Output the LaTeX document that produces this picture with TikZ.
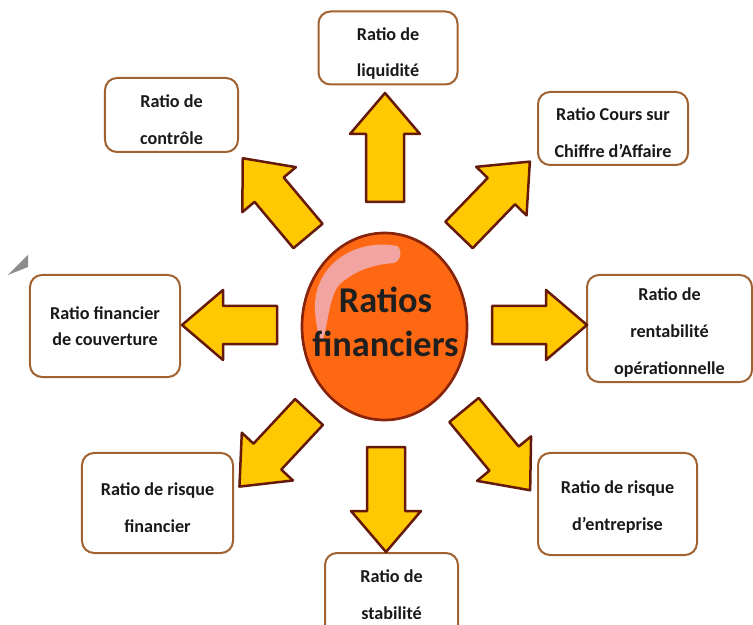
\documentclass[tikz,border=0pt]{standalone}
\usepackage{fontspec}
\setmainfont{Carlito}
\usetikzlibrary{shapes.geometric}

\definecolor{boxbrown}{RGB}{160,98,48}
\definecolor{arrowfill}{RGB}{255,200,0}
\definecolor{arrowline}{RGB}{100,25,10}
\definecolor{hubfill}{RGB}{255,104,18}
\definecolor{hubline}{RGB}{135,35,10}
\definecolor{shine}{RGB}{242,165,160}

\begin{document}
\begin{tikzpicture}[x=0.03cm,y=-0.03cm,
    ratiobox/.style={draw=boxbrown,line width=0.06cm,rounded corners=0.36cm,fill=white},
    ratiotext/.style={font=\bfseries\fontsize{15.5}{31.5}\selectfont,align=center,text=black!90},
    fatarrow/.pic={\draw[arrowline,fill=arrowfill,line width=0.075cm,line join=round]
      (0,-19) -- (#1-41,-19) -- (#1-41,-35) -- (#1,0) -- (#1-41,35) -- (#1-41,19) -- (0,19) -- cycle;},
    hub/.style={ellipse,draw=hubline,line width=0.08cm,fill=hubfill,
      minimum width=4.95cm,minimum height=5.61cm,inner sep=0pt}]
      \useasboundingbox (0,0) rectangle (753,625);
      \fill[black!45] (8,275) -- (28,255) -- (28,267) -- cycle;

      % boxes
      \node[ratiobox,minimum width=4.17cm,minimum height=2.19cm,
        label={[ratiotext,yshift=-0.165cm]center:{Ratio de\\liquidité}}] (liq) at (388,48) {};
      \node[ratiobox,minimum width=3.99cm,minimum height=2.22cm,
        label={[ratiotext,yshift=-0.15cm]center:{Ratio de\\contrôle}}] (ctrl) at (171.5,115) {};
      \node[ratiobox,minimum width=4.5cm,minimum height=2.19cm,
        label={[ratiotext,yshift=-0.12cm]center:{Ratio Cours sur\\Chiffre d’Affaire}}] (cca) at (613,128.5) {};
      \node[ratiobox,minimum width=4.5cm,minimum height=3.06cm,
        label={[ratiotext,font=\bfseries\fontsize{15.5}{22}\selectfont]center:{Ratio financier\\de couverture}}] (couv) at (105,326) {};
      \node[ratiobox,minimum width=4.95cm,minimum height=3.21cm,
        label={[ratiotext,yshift=-0.12cm]center:{Ratio de\\rentabilité\\opérationnelle}}] (rent) at (669.5,328.5) {};
      \node[ratiobox,minimum width=4.53cm,minimum height=3cm,
        label={[ratiotext,yshift=-0.15cm]center:{Ratio de risque\\financier}}] (rfin) at (157.5,503) {};
      \node[ratiobox,minimum width=3.99cm,minimum height=2.7cm,
        label={[ratiotext,yshift=0.105cm]center:{Ratio de\\stabilité}}] (stab) at (391.5,598) {};
      \node[ratiobox,minimum width=4.77cm,minimum height=3.06cm,
        label={[ratiotext,yshift=-0.09cm]center:{Ratio de risque\\d’entreprise}}] (rent2) at (617.5,504) {};

      % centre
      \node[hub] (hub) at (384.5,326.5) {};
      \fill[shine] (397,246) .. controls (355,238) and (313,265) .. (315,310)
        .. controls (316,325) and (318,335) .. (322,342)
        .. controls (330,320) and (328,290) .. (345,280)
        .. controls (360,268) and (380,264) .. (394,263)
        .. controls (402,260) and (402,249) .. (397,246) -- cycle;
      \node[font=\bfseries\fontsize{31}{37.5}\selectfont,align=center,text=black!88] (hubt) at (385.5,322) {Ratios\\financiers};

      % arrows
      \pic[rotate=90] (aliq) at (385,202) {fatarrow=109};
      \pic[rotate=46] (acca) at (459,235) {fatarrow=102};
      \pic[rotate=0] (arent) at (492,325) {fatarrow=95};
      \pic[rotate=-50.5] (arent2) at (464,410) {fatarrow=104};
      \pic[rotate=-90] (astab) at (386,447) {fatarrow=105};
      \pic[rotate=-133] (arfin) at (309,412) {fatarrow=102};
      \pic[rotate=180] (acouv) at (277,325) {fatarrow=95};
      \pic[rotate=130] (actrl) at (308,236) {fatarrow=101.5};
    \end{tikzpicture}
\end{document}
